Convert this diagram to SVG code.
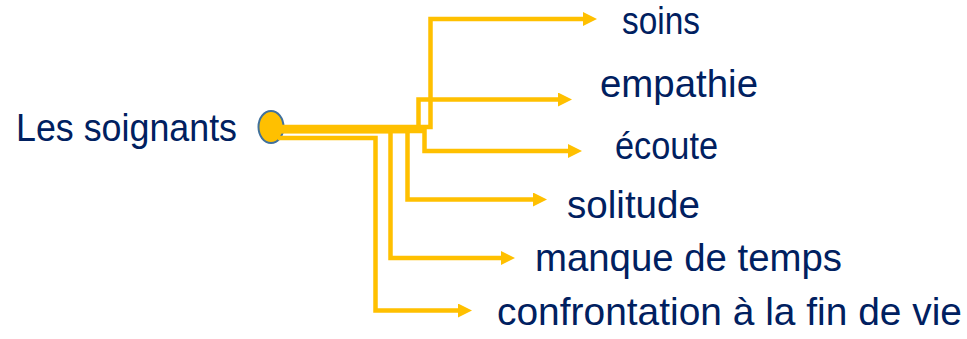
<svg xmlns="http://www.w3.org/2000/svg" width="967" height="339" viewBox="0 0 967 339">
<style>
.lbl{font-family:"Liberation Sans",Arial,sans-serif;font-size:39px;fill:#002060}
.c{fill:none;stroke:#FFC000;stroke-width:4.5}
</style>
<defs>
<marker id="ah" markerUnits="userSpaceOnUse" markerWidth="14" markerHeight="14" viewBox="0 0 14 14" refX="0" refY="7" orient="auto">
<path d="M0,0 L14,7 L0,14 Z" fill="#FFC000"/>
</marker>
</defs>
<rect width="967" height="339" fill="#fff"/>
<g id="root">
<ellipse cx="271" cy="127" rx="12.5" ry="16" fill="#FFC000" stroke="#41719C" stroke-width="2"/>
<text class="lbl" x="16" y="141" textLength="221" lengthAdjust="spacingAndGlyphs">Les soignants</text>
</g>
<g id="connectors">
<path class="c" d="M280,127 H430.5 V19 H583" marker-end="url(#ah)"/>
<path class="c" d="M280,129 H418.5 V99.5 H558" marker-end="url(#ah)"/>
<path class="c" d="M280,131 H424.5 V151 H568" marker-end="url(#ah)"/>
<path class="c" d="M280,131 H407.5 V199.5 H533" marker-end="url(#ah)"/>
<path class="c" d="M280,131 H390.5 V258 H501" marker-end="url(#ah)"/>
<path class="c" d="M278,138 H375.5 V310.5 H458" marker-end="url(#ah)"/>
</g>
<g id="soins"><text class="lbl" x="622" y="34" textLength="78" lengthAdjust="spacingAndGlyphs">soins</text></g>
<g id="empathie"><text class="lbl" x="600" y="97" textLength="158" lengthAdjust="spacingAndGlyphs">empathie</text></g>
<g id="ecoute"><text class="lbl" x="615" y="159" textLength="103" lengthAdjust="spacingAndGlyphs">écoute</text></g>
<g id="solitude"><text class="lbl" x="567" y="218" textLength="133" lengthAdjust="spacingAndGlyphs">solitude</text></g>
<g id="manque"><text class="lbl" x="535" y="271" textLength="307" lengthAdjust="spacingAndGlyphs">manque de temps</text></g>
<g id="confrontation"><text class="lbl" x="497" y="325" textLength="465" lengthAdjust="spacingAndGlyphs">confrontation à la fin de vie</text></g>
</svg>
